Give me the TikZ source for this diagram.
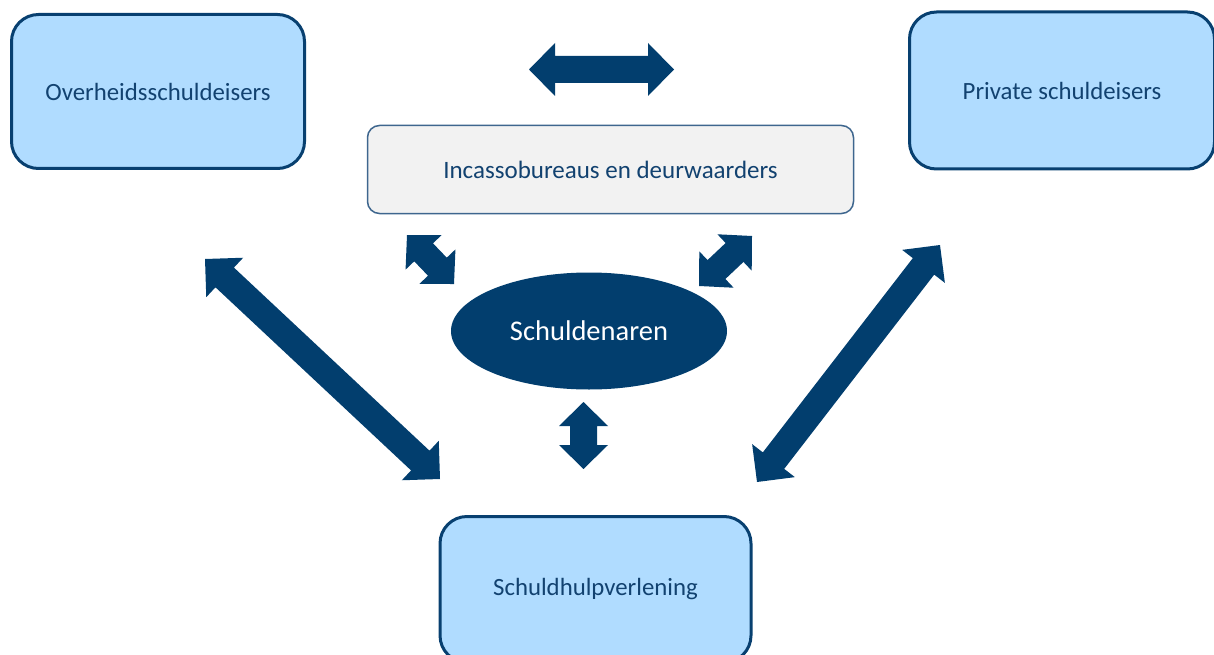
\documentclass[tikz,border=0pt]{standalone}
\usepackage{fontspec}
\setmainfont{Carlito}
\usetikzlibrary{calc,shapes.geometric}
\definecolor{arrowblue}{RGB}{2,62,110}
\definecolor{boxborder}{RGB}{8,64,112}
\definecolor{textblue}{RGB}{18,66,112}
\definecolor{boxfill}{RGB}{176,220,255}
\definecolor{grayfill}{RGB}{242,242,242}
\definecolor{grayborder}{RGB}{62,102,142}
\tikzset{
  partybox/.style={draw=boxborder, line width=3pt, fill=boxfill, rounded corners=27pt,
    inner sep=0pt, text=textblue, font=\fontsize{24.8}{30}\selectfont},
  agentbox/.style={draw=grayborder, line width=1.5pt, fill=grayfill, rounded corners=12pt,
    inner sep=0pt, text=textblue, font=\fontsize{25}{30}\selectfont},
  debtor/.style={ellipse, fill=arrowblue, inner sep=0pt, text=white,
    font=\fontsize{28.5}{34}\selectfont},
  blockfill/.style={fill=arrowblue}
}
% #1 tip A, #2 tip B, #3 shaft half width, #4 head half width, #5 head length
\newcommand\dblblockarrow[5]{%
  \coordinate (#1-h) at ($(#1)!#5!(#2)$);
  \coordinate (#2-h) at ($(#2)!#5!(#1)$);
  \fill[blockfill] (#1)
    -- ($(#1-h)!#4!90:(#2)$) -- ($(#1-h)!#3!90:(#2)$)
    -- ($(#2-h)!#3!-90:(#1)$) -- ($(#2-h)!#4!-90:(#1)$)
    -- (#2)
    -- ($(#2-h)!#4!90:(#1)$) -- ($(#2-h)!#3!90:(#1)$)
    -- ($(#1-h)!#3!-90:(#2)$) -- ($(#1-h)!#4!-90:(#2)$)
    -- cycle;
}
\begin{document}
\begin{tikzpicture}[x=1pt,y=-1pt]
\useasboundingbox (0,0) rectangle (1214,655);
% boxes
\node[partybox, minimum width=293pt, minimum height=154pt] (overheid) at (158,91.5) {Overheidsschuldeisers};
\node[partybox, minimum width=305pt, minimum height=157pt] (private) at (1062,90.5) {Private schuldeisers};
\node[agentbox, minimum width=486pt, minimum height=88pt] (incasso) at (610.5,169.5) {Incassobureaus en deurwaarders};
\node[debtor, minimum width=276pt, minimum height=117pt] (schuldenaren) at (589,331) {Schuldenaren};
\node[partybox, minimum width=311pt, minimum height=146pt] (hulp) at (595.5,589.5) {Schuldhulpverlening};
% arrow end points
\coordinate (topL) at (529,69.5);
\coordinate (topR) at (674,69.5);
\coordinate (slA) at (407,235);
\coordinate (slB) at (454,284);
\coordinate (srA) at (752,236);
\coordinate (srB) at (699,286);
\coordinate (vA) at (583.5,402);
\coordinate (vB) at (583.5,469);
\coordinate (blA) at (205,259);
\coordinate (blB) at (440,479);
\coordinate (brA) at (940,245);
\coordinate (brB) at (757,482);
% arrows
\dblblockarrow{topL}{topR}{13.5pt}{26.5pt}{26pt}
\dblblockarrow{slA}{slB}{13pt}{25pt}{24pt}
\dblblockarrow{srA}{srB}{13pt}{25pt}{24pt}
\dblblockarrow{vA}{vB}{13.5pt}{24.5pt}{24pt}
\dblblockarrow{blA}{blB}{13.5pt}{27pt}{27pt}
\dblblockarrow{brA}{brB}{13.5pt}{27pt}{27pt}
\end{tikzpicture}
\end{document}
